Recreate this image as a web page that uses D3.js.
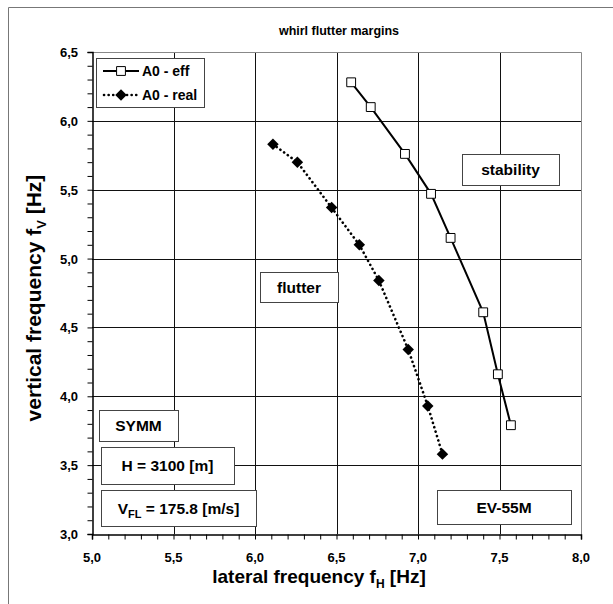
<!DOCTYPE html>
<html>
<head>
<meta charset="utf-8">
<script src="https://cdn.jsdelivr.net/npm/d3@7"></script>
<style>
  body { margin: 0; background: #fff; overflow: hidden; }
  svg { display: block; }
  text { font-family: "Liberation Sans", Arial, sans-serif; font-weight: bold; fill: #000; }
</style>
</head>
<body>
<div id="chart"></div>
<script>
// Data
let effH = [6.59, 6.71, 6.92, 7.08, 7.20, 7.40, 7.49, 7.57];
let effV = [6.28, 6.10, 5.76, 5.47, 5.15, 4.61, 4.16, 3.79];
let realH = [6.11, 6.26, 6.47, 6.64, 6.76, 6.94, 7.06, 7.15];
let realV = [5.83, 5.70, 5.37, 5.10, 4.84, 4.34, 3.93, 3.58];
let xTicks = [5.0, 5.5, 6.0, 6.5, 7.0, 7.5, 8.0];
let yTicks = [3.0, 3.5, 4.0, 4.5, 5.0, 5.5, 6.0, 6.5];
let seriesNames = ["A0 - eff", "A0 - real"];

let W = 613, H = 604;
let svg = d3.select("#chart").append("svg")
  .attr("width", W)
  .attr("height", H);

// outer frame (only left / top visible)
svg.append("path")
  .attr("d", `M8.5,${H}V7.5H${W}`)
  .attr("fill", "none").attr("stroke", "#777").attr("stroke-width", 1);

let x = d3.scaleLinear().domain([5, 8]).range([92, 581]);
let y = d3.scaleLinear().domain([3, 6.5]).range([534, 52]);

// grid
svg.append("g").selectAll("line")
  .data(xTicks.slice(1, -1))
  .enter().append("line")
  .attr("x1", d => Math.round(x(d)) + 0.5).attr("x2", d => Math.round(x(d)) + 0.5)
  .attr("y1", y(6.5)).attr("y2", y(3))
  .attr("stroke", "#111");
svg.append("g").selectAll("line")
  .data(yTicks.slice(1, -1))
  .enter().append("line")
  .attr("y1", d => Math.round(y(d)) + 0.5).attr("y2", d => Math.round(y(d)) + 0.5)
  .attr("x1", x(5)).attr("x2", x(8))
  .attr("stroke", "#111");

// plot border (top/right gray)
svg.append("path")
  .attr("d", `M${x(5)},${y(6.5) + 0.5}H${x(8) + 0.5}V${y(3)}`)
  .attr("fill", "none").attr("stroke", "#888");

// axes
let xAxis = svg.append("g")
  .attr("transform", `translate(0,${y(3) + 0.5})`)
  .call(d3.axisBottom(x).tickValues(d3.range(50, 81).map(d => d / 10)).tickSize(5).tickFormat(""));
let yAxis = svg.append("g")
  .attr("transform", `translate(${x(5) + 0.5},0)`)
  .call(d3.axisLeft(y).tickValues(d3.range(30, 66).map(d => d / 10)).tickSize(5).tickFormat(""));
[xAxis, yAxis].forEach(a => {
  a.select(".domain").attr("stroke", "#000").attr("stroke-width", 1.5);
  a.selectAll(".tick line").attr("stroke", "#000");
});

// tick labels
svg.append("g").selectAll("text")
  .data(xTicks)
  .enter().append("text")
  .attr("x", d => x(d)).attr("y", 562)
  .attr("text-anchor", "middle")
  .style("font-size", "13px")
  .text(d => d.toFixed(1).replace(".", ","));
svg.append("g").selectAll("text")
  .data(yTicks)
  .enter().append("text")
  .attr("x", 78).attr("y", d => y(d) + 5)
  .attr("text-anchor", "end")
  .style("font-size", "13px")
  .text(d => d.toFixed(1).replace(".", ","));

// title
svg.append("text")
  .attr("x", 339).attr("y", 35)
  .attr("text-anchor", "middle")
  .style("font-size", "12.5px")
  .text("whirl flutter margins");

// axis titles
let xt = svg.append("text")
  .attr("x", 319).attr("y", 583)
  .attr("text-anchor", "middle")
  .style("font-size", "19px");
xt.append("tspan").text("lateral frequency  f");
xt.append("tspan").attr("dy", 5).style("font-size", "12px").text("H");
xt.append("tspan").attr("dy", -5).text(" [Hz]");

let yt = svg.append("text")
  .attr("transform", "translate(41,298) rotate(-90)")
  .attr("text-anchor", "middle")
  .style("font-size", "21px");
yt.append("tspan").text("vertical frequency  f");
yt.append("tspan").attr("dy", 5).style("font-size", "13px").text("V");
yt.append("tspan").attr("dy", -5).text(" [Hz]");

// series lines
let eff = effH.map((d, i) => [d, effV[i]]);
let real = realH.map((d, i) => [d, realV[i]]);
let line = d3.line().x(d => x(d[0])).y(d => y(d[1]));

svg.append("path")
  .datum(eff)
  .attr("d", line)
  .attr("fill", "none").attr("stroke", "#000").attr("stroke-width", 2);
svg.append("path")
  .datum(real)
  .attr("d", line)
  .attr("fill", "none").attr("stroke", "#000").attr("stroke-width", 2.6)
  .attr("stroke-linecap", "round").attr("stroke-dasharray", "0.1 4.5");

let sq = d3.symbol().type(d3.symbolSquare).size(78);
let dm = d3.symbol().type(d3.symbolSquare).size(66);

svg.append("g").selectAll("path")
  .data(eff)
  .enter().append("path")
  .attr("d", sq)
  .attr("transform", d => `translate(${x(d[0])},${y(d[1])})`)
  .attr("fill", "#fff").attr("stroke", "#000").attr("stroke-width", 1);
svg.append("g").selectAll("path")
  .data(real)
  .enter().append("path")
  .attr("d", dm)
  .attr("transform", d => `translate(${x(d[0])},${y(d[1])}) rotate(45)`)
  .attr("fill", "#000");

// legend
let lg = svg.append("g");
lg.append("rect")
  .attr("x", 96.5).attr("y", 58.5).attr("width", 108).attr("height", 49)
  .attr("fill", "#fff").attr("stroke", "#444");
lg.append("line")
  .attr("x1", 103).attr("x2", 139).attr("y1", 71).attr("y2", 71)
  .attr("stroke", "#000").attr("stroke-width", 2);
lg.append("path").attr("d", sq).attr("transform", "translate(121,71)")
  .attr("fill", "#fff").attr("stroke", "#000");
lg.append("line")
  .attr("x1", 104).attr("x2", 139).attr("y1", 95).attr("y2", 95)
  .attr("stroke", "#000").attr("stroke-width", 2.6)
  .attr("stroke-linecap", "round").attr("stroke-dasharray", "0.1 4.5");
lg.append("path").attr("d", dm).attr("transform", "translate(121,95) rotate(45)").attr("fill", "#000");
lg.selectAll("text.lab")
  .data(seriesNames)
  .enter().append("text")
  .attr("x", 142).attr("y", (d, i) => 76 + i * 24)
  .style("font-size", "14px")
  .text(d => d);

// annotation boxes
let boxes = [
  {t: "stability", x0: 462, y0: 154, w: 97, h: 31},
  {t: "flutter", x0: 260, y0: 272, w: 78, h: 30},
  {t: "SYMM", x0: 99, y0: 410, w: 79, h: 31},
  {t: "H = 3100 [m]", x0: 101, y0: 447, w: 133, h: 37},
  {t: "VFL", x0: 101, y0: 490, w: 155, h: 36},
  {t: "EV-55M", x0: 437, y0: 490, w: 134, h: 34}
];
boxes.forEach(b => {
  svg.append("rect")
    .attr("x", b.x0 + 0.5).attr("y", b.y0 + 0.5).attr("width", b.w).attr("height", b.h)
    .attr("fill", "#fff").attr("stroke", "#444");
  let tx = svg.append("text")
    .attr("x", b.x0 + b.w / 2).attr("y", b.y0 + b.h / 2 + 5.5)
    .attr("text-anchor", "middle")
    .style("font-size", "15.5px");
  if (b.t == "VFL") {
    tx.append("tspan").text("V");
    tx.append("tspan").attr("dy", 4).style("font-size", "11px").text("FL");
    tx.append("tspan").attr("dy", -4).text(" = 175.8 [m/s]");
  } else {
    tx.text(b.t);
  }
});
</script>
</body>
</html>
